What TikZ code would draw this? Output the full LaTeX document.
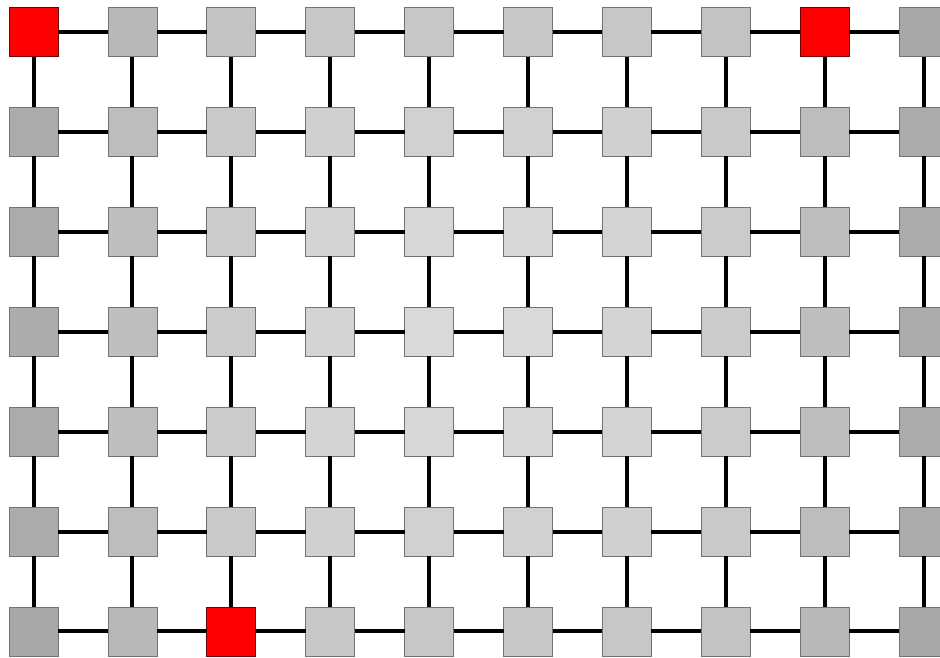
\documentclass[tikz,border=0pt]{standalone}
\begin{document}
\begin{tikzpicture}[x=1pt,y=-1pt,
  cell/.style={rectangle, draw=black!55, line width=0.8pt, minimum size=49pt, inner sep=0pt, outer sep=0pt},
  redcell/.style={cell, draw=red!45!black},
  link/.style={line width=4pt, draw=black}]
\useasboundingbox (0,0) rectangle (940,657);
\clip (0,0) rectangle (940,657);
\foreach \i in {0,...,9}{
  \foreach \j in {0,...,6}{
    \pgfmathsetmacro{\dx}{abs(\i-4.5)/4.5}
    \pgfmathsetmacro{\dy}{abs(\j-3)/3}
    \pgfmathtruncatemacro{\g}{218-sqrt((46*\dx*\dx)^2+(18*\dy*\dy)^2)}
    \pgfmathtruncatemacro{\isred}{or(and(\i==0,\j==0),or(and(\i==8,\j==0),and(\i==2,\j==6)))}
    \ifnum\isred=1
      \node[redcell, fill=red] (n-\i-\j) at ({33.5+98.9*\i},{32+99.9*\j}) {};
    \else
      \definecolor{cc}{RGB}{\g,\g,\g}
      \node[cell, fill=cc] (n-\i-\j) at ({33.5+98.9*\i},{32+99.9*\j}) {};
    \fi
  }
}
\foreach \i in {0,...,8}{
  \pgfmathtruncatemacro{\k}{\i+1}
  \foreach \j in {0,...,6}{
    \draw[link] (n-\i-\j) -- (n-\k-\j);
  }
}
\foreach \i in {0,...,9}{
  \foreach \j in {0,...,5}{
    \pgfmathtruncatemacro{\k}{\j+1}
    \draw[link] (n-\i-\j) -- (n-\i-\k);
  }
}
\end{tikzpicture}
\end{document}
